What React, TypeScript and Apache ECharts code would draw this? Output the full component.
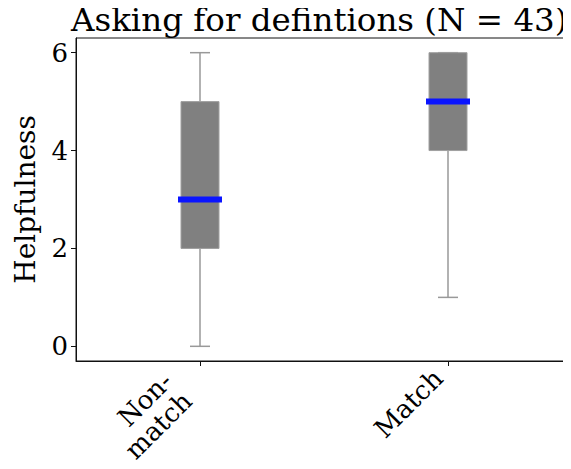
import React, { useEffect, useRef } from "react";
import * as echarts from "echarts";

const categories = ["Non-\nmatch", "Match"];
const mins = [0, 1];
const q1s = [2, 4];
const medians = [3, 5];
const q3s = [5, 6];
const maxs = [6, 6];
const yTicks = [0, 2, 4, 6];

const FONT = "DejaVu Serif";
const LBL_LH = 28;

export default function App() {
  const ref = useRef<HTMLDivElement>(null);
  useEffect(() => {
    const chart = echarts.init(ref.current!, undefined, { renderer: "svg" });
    const data = categories.map((_, i) => [i, mins[i], q1s[i], medians[i], q3s[i], maxs[i]]);
    const lblStyle = { fontFamily: FONT, fontSize: 26, color: "#000", lineHeight: LBL_LH };
    chart.setOption({
      animation: false,
      backgroundColor: "#ffffff",
      title: {
        text: "Asking for defintions (N = 43)",
        left: 71,
        top: 3,
        padding: 0,
        textStyle: { fontFamily: FONT, fontSize: 32.5, fontWeight: "normal", color: "#000" },
      },
      grid: {
        left: 76,
        right: -1,
        top: 38,
        bottom: 108,
        outerBoundsMode: "none",
        containLabel: false,
        show: true,
        borderColor: "#111",
        borderWidth: 1,
        backgroundColor: "transparent",
      },
      xAxis: {
        type: "category",
        data: categories,
        boundaryGap: true,
        axisLine: { show: true, onZero: false, lineStyle: { color: "#111", width: 1 } },
        axisTick: { show: true, alignWithLabel: true, length: 5, lineStyle: { color: "#111" } },
        axisLabel: {
          rotate: 45,
          ...lblStyle,
          margin: 3,
          formatter: (v: string) => {
            const lines = v.split("\n");
            const key = lines.length > 1 ? "two" : "one";
            return lines.map((l) => `{${key}|${l}}`).join("\n");
          },
          rich: {
            one: { ...lblStyle, padding: [0, LBL_LH / 2, 0, 0] },
            two: { ...lblStyle, padding: [0, LBL_LH + 4, 0, 0] },
          },
        },
        splitLine: { show: false },
      },
      yAxis: {
        type: "value",
        min: -0.3,
        max: 6.3,
        name: "Helpfulness",
        nameLocation: "middle",
        nameGap: 37,
        nameTextStyle: { fontFamily: FONT, fontSize: 28, color: "#000" },
        axisLine: { show: true, lineStyle: { color: "#111", width: 1 } },
        axisTick: { show: true, length: 5, customValues: yTicks, lineStyle: { color: "#111" } },
        axisLabel: {
          customValues: yTicks,
          fontFamily: FONT,
          fontSize: 26,
          color: "#000",
          margin: 8,
        },
        splitLine: { show: false },
      },
      series: [
        {
          type: "custom",
          data,
          encode: { x: 0, y: [1, 2, 3, 4, 5] },
          renderItem: (params: any, api: any) => {
            const idx = api.value(0);
            const pMin = api.coord([idx, api.value(1)]);
            const pQ1 = api.coord([idx, api.value(2)]);
            const pMed = api.coord([idx, api.value(3)]);
            const pQ3 = api.coord([idx, api.value(4)]);
            const pMax = api.coord([idx, api.value(5)]);
            const cx = pMin[0];
            const boxW = 38;
            const medW = 44;
            const capW = 20;
            const wStyle = { stroke: "#999999", lineWidth: 1.5 };
            return {
              type: "group",
              children: [
                { type: "line", shape: { x1: cx, y1: pQ1[1], x2: cx, y2: pMin[1] }, style: wStyle },
                { type: "line", shape: { x1: cx, y1: pQ3[1], x2: cx, y2: pMax[1] }, style: wStyle },
                { type: "line", shape: { x1: cx - capW / 2, y1: pMin[1], x2: cx + capW / 2, y2: pMin[1] }, style: wStyle },
                { type: "line", shape: { x1: cx - capW / 2, y1: pMax[1], x2: cx + capW / 2, y2: pMax[1] }, style: wStyle },
                {
                  type: "rect",
                  shape: { x: cx - boxW / 2, y: pQ3[1], width: boxW, height: pQ1[1] - pQ3[1] },
                  style: { fill: "#808080", stroke: "#a0a0a0", lineWidth: 1 },
                },
                {
                  type: "line",
                  shape: { x1: cx - medW / 2, y1: pMed[1], x2: cx + medW / 2, y2: pMed[1] },
                  style: { stroke: "#0a14ff", lineWidth: 6 },
                },
              ],
            };
          },
        },
      ],
    });
    return () => chart.dispose();
  }, []);
  return <div ref={ref} style={{ width: 571, height: 469, margin: -8 }} />;
}
